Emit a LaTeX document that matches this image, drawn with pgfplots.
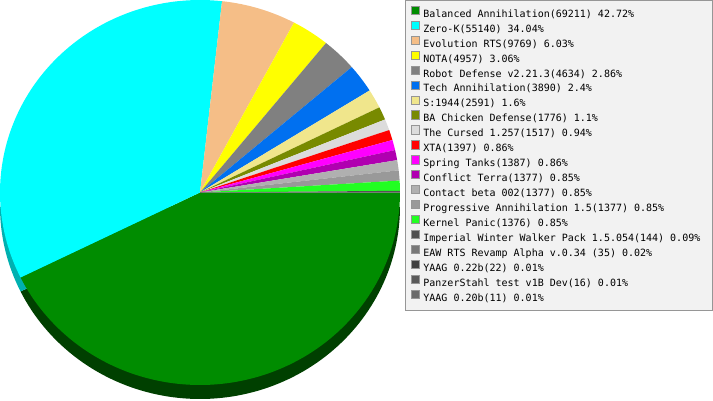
\documentclass[border=0pt]{standalone}
\usepackage{pgfplots}
\usepackage{pgfplotstable}
\pgfplotsset{compat=1.18}
\usepackage{fontspec}
\newfontfamily\legfont{DejaVu Sans Mono}

\definecolor{c1}{RGB}{0,140,0}
\definecolor{c2}{RGB}{0,255,255}
\definecolor{c3}{RGB}{245,190,135}
\definecolor{c4}{RGB}{255,255,0}
\definecolor{c5}{RGB}{128,128,128}
\definecolor{c6}{RGB}{0,112,240}
\definecolor{c7}{RGB}{240,230,140}
\definecolor{c8}{RGB}{120,138,0}
\definecolor{c9}{RGB}{220,220,220}
\definecolor{c10}{RGB}{255,0,0}
\definecolor{c11}{RGB}{255,0,255}
\definecolor{c12}{RGB}{176,0,176}
\definecolor{c13}{RGB}{176,176,176}
\definecolor{c14}{RGB}{153,153,153}
\definecolor{c15}{RGB}{34,255,34}
\definecolor{c16}{RGB}{80,80,80}
\definecolor{c17}{RGB}{120,120,120}
\definecolor{c18}{RGB}{64,64,64}
\definecolor{c19}{RGB}{90,90,90}
\definecolor{c20}{RGB}{106,106,106}
\definecolor{s1}{RGB}{0,64,0}
\definecolor{s2}{RGB}{0,176,176}
\definecolor{legfill}{RGB}{242,242,242}
\definecolor{legdraw}{RGB}{150,150,150}

\pgfplotstableread[col sep=semicolon]{
label;count
Balanced Annihilation(69211) 42.72;69211
Zero-K(55140) 34.04;55140
Evolution RTS(9769) 6.03;9769
NOTA(4957) 3.06;4957
Robot Defense v2.21.3(4634) 2.86;4634
Tech Annihilation(3890) 2.4;3890
S:1944(2591) 1.6;2591
BA Chicken Defense(1776) 1.1;1776
The Cursed 1.257(1517) 0.94;1517
XTA(1397) 0.86;1397
Spring Tanks(1387) 0.86;1387
Conflict Terra(1377) 0.85;1377
Contact beta 002(1377) 0.85;1377
Progressive Annihilation 1.5(1377) 0.85;1377
Kernel Panic(1376) 0.85;1376
Imperial Winter Walker Pack 1.5.054(144) 0.09;144
EAW RTS Revamp Alpha v.0.34 (35) 0.02;35
YAAG 0.22b(22) 0.01;22
PanzerStahl test v1B Dev(16) 0.01;16
YAAG 0.20b(11) 0.01;11
}\pietable

% total of all counts
\def\total{0}
\pgfplotsinvokeforeach{0,...,19}{%
  \pgfplotstablegetelem{#1}{count}\of\pietable%
  \edef\total{\fpeval{\total+\pgfplotsretval}}%
}
% cumulative angles (clockwise from east)
\def\cum{0}
\pgfplotsinvokeforeach{1,...,20}{%
  \pgfmathtruncatemacro\r{#1-1}%
  \pgfplotstablegetelem{\r}{count}\of\pietable%
  \expandafter\edef\csname angA#1\endcsname{\fpeval{\cum*360/\total}}%
  \edef\cum{\fpeval{\cum+\pgfplotsretval}}%
  \expandafter\edef\csname angB#1\endcsname{\fpeval{\cum*360/\total}}%
}

\begin{document}%
\begin{tikzpicture}
\begin{axis}[
  width=713pt, height=400pt, scale only axis,
  xmin=0, xmax=713, ymin=0, ymax=400,
  hide axis, clip=false,
  legend cell align=left,
  legend image code/.code={\draw[#1, draw=legdraw, line width=0.7pt] (0.4pt,-0.4pt) rectangle (8.6pt,7.8pt);},
  legend style={at={(axis cs:410.5,394.2)}, anchor=north west,
    draw=none, fill=none, inner sep=0pt, outer sep=0pt,
    row sep=1.55pt, column sep=4pt,
    font=\legfont\fontsize{10}{12}\selectfont,
    nodes={inner sep=0pt, text height=8.5pt, text depth=2pt}},
]
\path (axis cs:0,0) rectangle (axis cs:713,400);
% legend box
\draw[draw=legdraw, fill=legfill, line width=1pt] (axis cs:405.5,399.5) rectangle (axis cs:712.5,89.5);
% 3D sides (front half only)
\pgfplotsinvokeforeach{1,2}{%
  \edef\a{\csname angA#1\endcsname}%
  \edef\sb{\fpeval{min(\csname angB#1\endcsname,180)}}%
  \edef\doit{\noexpand\addplot[fill=s#1, draw=none, forget plot, domain=-\sb:-\a, samples=100]
    ({200+200*cos(x)},{193.5+192.5*sin(x)}) -- (axis cs:200,193.5) -- cycle;}%
  \doit
}
% top face slices
\pgfplotsinvokeforeach{1,...,20}{%
  \pgfmathtruncatemacro\r{#1-1}%
  \edef\a{\csname angA#1\endcsname}%
  \edef\b{\csname angB#1\endcsname}%
  \edef\doit{\noexpand\addplot[fill=c#1, draw=none, domain=-\b:-\a, samples=100]
    ({200+200*cos(x)},{207.5+192.5*sin(x)}) -- (axis cs:200,207.5) -- cycle;}%
  \doit
  \pgfplotstablegetelem{\r}{label}\of\pietable
  \expandafter\addlegendentry\expandafter{\pgfplotsretval\%}%
}
\end{axis}
\end{tikzpicture}%
\end{document}
